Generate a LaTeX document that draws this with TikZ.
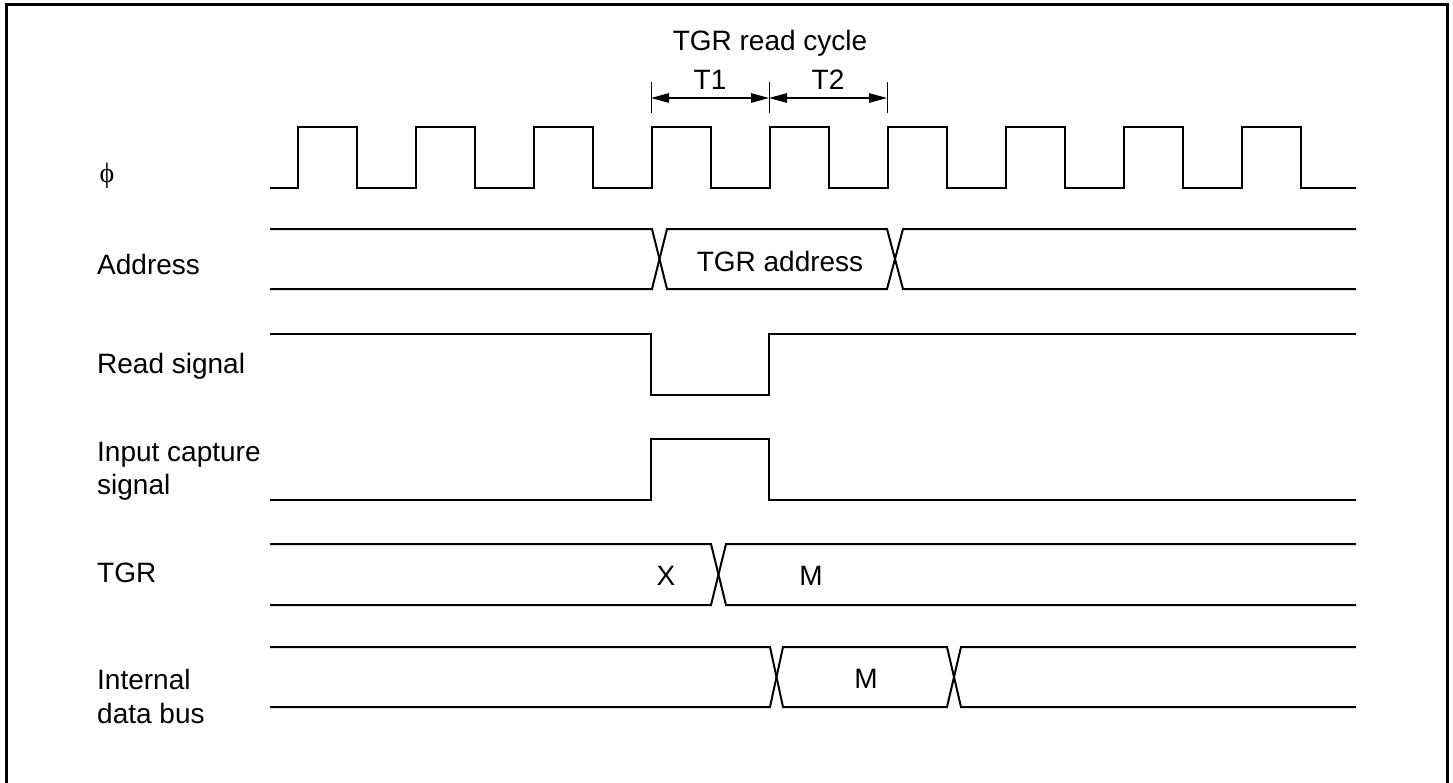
\documentclass[tikz,border=0pt]{standalone}
\usepackage{fontspec}
\setmainfont{Liberation Sans}
\newfontfamily\phifont{Liberation Serif}
\usetikzlibrary{arrows.meta}
\begin{document}
\begin{tikzpicture}[x=1pt,y=-1pt,
  sig/.style={line width=2pt, line join=miter},
  lbl/.style={font=\fontsize{28}{33}\selectfont, inner sep=0pt},
  tick/.style={line width=1pt},
  dim/.style={line width=1.3pt, {Triangle[length=18pt,width=9.5pt]}-{Triangle[length=18pt,width=9.5pt]}}]
\useasboundingbox (0,0) rectangle (1453,782);
% frame (open at the bottom)
\draw[line width=3pt] (6.5,800) -- (6.5,4.7) -- (1447.5,4.7) -- (1447.5,800);

% clock
\draw[sig] (270,188) \foreach \r in {298,416,534,652,770,888,1006,1124,1242} {
  -- (\r,188) -- (\r,127) -- (\r+59,127) -- (\r+59,188)} -- (1356,188);

% address bus
\draw[sig] (270,229) -- (652,229) -- (667,289) -- (887,289) -- (903,229) -- (1356,229);
\draw[sig] (270,289) -- (652,289) -- (667,229) -- (887,229) -- (903,289) -- (1356,289);

% read signal
\draw[sig] (270,334) -- (651,334) -- (651,395) -- (769,395) -- (769,334) -- (1356,334);

% input capture signal
\draw[sig] (270,500) -- (651,500) -- (651,439) -- (769,439) -- (769,500) -- (1356,500);

% TGR
\draw[sig] (270,544) -- (711,544) -- (726,605) -- (1356,605);
\draw[sig] (270,605) -- (711,605) -- (726,544) -- (1356,544);

% internal data bus
\draw[sig] (270,647) -- (770,647) -- (783,707) -- (947,707) -- (961,647) -- (1356,647);
\draw[sig] (270,707) -- (770,707) -- (783,647) -- (947,647) -- (961,707) -- (1356,707);

% cycle dimension lines
\coordinate (t0) at (651,98);
\coordinate (t1) at (769,98);
\coordinate (t2) at (887,98);
\draw[tick] (651,82) -- (651,113);
\draw[tick] (769,82) -- (769,113);
\draw[tick] (887,82) -- (887,113);
\draw[dim] (t0) -- (t1);
\draw[dim] (t1) -- (t2);

% texts
\node[lbl, anchor=base] (cyc) at (770,50) {TGR read cycle};
\node[lbl, anchor=base] (T1) at (710,89) {T1};
\node[lbl, anchor=base] (T2) at (828,89) {T2};
\node[lbl] (phi) at (107,176) {\phifont ϕ};
\node[lbl, anchor=base west] (lA) at (97,274) {Address};
\node[lbl, anchor=base west] (lR) at (97,373) {Read signal};
\node[lbl, anchor=base west] (lI1) at (97,461) {Input capture};
\node[lbl, anchor=base west] (lI2) at (97,494) {signal};
\node[lbl, anchor=base west] (lT) at (97,582) {TGR};
\node[lbl, anchor=base west] (lD1) at (97,689) {Internal};
\node[lbl, anchor=base west] (lD2) at (97,723) {data bus};
\node[lbl, anchor=base] (ta) at (780,271) {TGR address};
\node[lbl, anchor=base] (vx) at (666,585) {X};
\node[lbl, anchor=base] (vm1) at (811,585) {M};
\node[lbl, anchor=base] (vm2) at (866,688) {M};
\end{tikzpicture}
\end{document}
